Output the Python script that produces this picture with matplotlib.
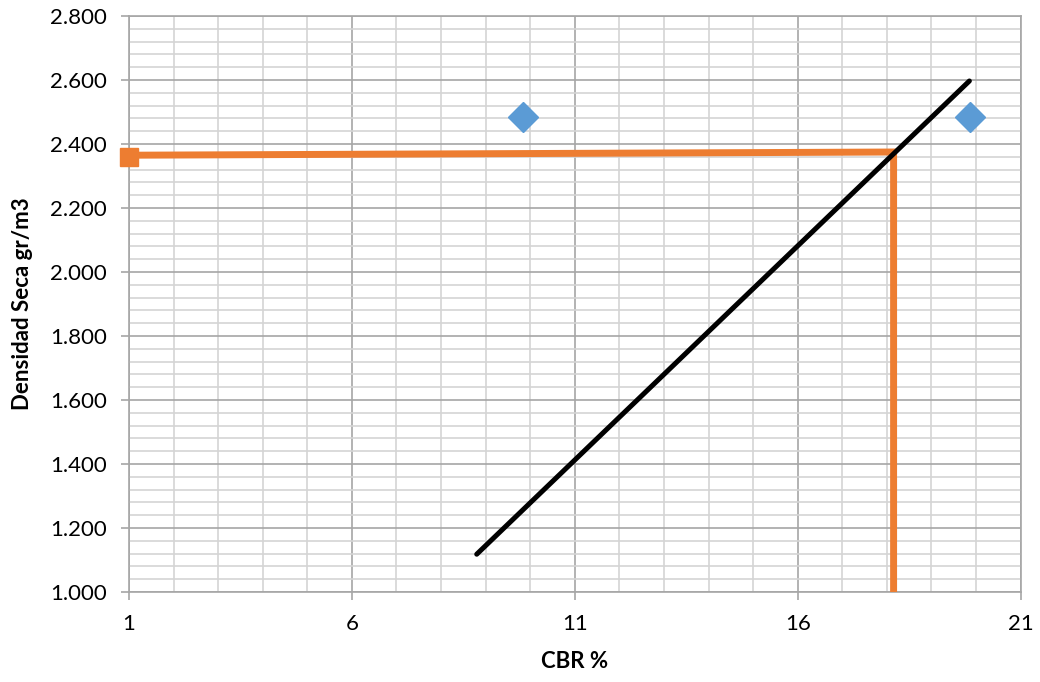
import numpy as np
import matplotlib.pyplot as plt
from matplotlib.ticker import MultipleLocator, FormatStrFormatter

plt.rcParams['font.family'] = ['Lato', 'DejaVu Sans']

# ensayos CBR
cbr_puntos = [9.84, 19.86]
dens_puntos = [2.483, 2.483]

# recta densidad - CBR
cbr_recta = [8.80, 19.85]
dens_recta = [1.118, 2.597]

# lectura del CBR de diseno
cbr_lectura = [1.0, 18.15, 18.15]
dens_lectura = [2.365, 2.375, 1.0]

xticks = [1, 6, 11, 16, 21]

fig = plt.figure(figsize=(10.4, 6.82), dpi=100)
ax = fig.add_axes([0.124, 0.132, 0.8574, 0.8445])

ax.plot(cbr_lectura, dens_lectura, color='#ED7D31', lw=5, solid_joinstyle='miter',
        solid_capstyle='butt', zorder=3)
ax.plot(cbr_lectura[0], dens_lectura[0] - 0.005, marker='s', ms=13.5, color='#ED7D31',
        clip_on=False, zorder=4)
ax.plot(cbr_recta, dens_recta, color='black', lw=3.6, solid_capstyle='round', zorder=3)
ax.plot(cbr_puntos, dens_puntos, 'D', ms=15, color='#5B9BD5', zorder=4, linestyle='none')

ax.set_xlim(1, 21)
ax.set_ylim(1.0, 2.8)
ax.set_xticks(xticks)
ax.xaxis.set_minor_locator(MultipleLocator(1))
ax.yaxis.set_major_locator(MultipleLocator(0.2))
ax.yaxis.set_minor_locator(MultipleLocator(0.04))
ax.yaxis.set_major_formatter(FormatStrFormatter('%.3f'))

ax.grid(which='major', color='#a6a6a6', lw=1.2)
ax.grid(which='minor', color='#d4d4d4', lw=1.2)
ax.set_axisbelow(True)

for s in ax.spines.values():
    s.set_color('#a6a6a6')
    s.set_linewidth(1.2)

ax.tick_params(which='major', length=6, width=1.2, color='#a6a6a6',
               labelsize=16, pad=10)
ax.tick_params(which='minor', length=0)

ax.set_xlabel('CBR %', fontsize=16, fontweight='bold', labelpad=12)
ax.set_ylabel('Densidad Seca gr/m3', fontsize=16, fontweight='bold', labelpad=12)

fig.savefig('out.png', dpi=100)
